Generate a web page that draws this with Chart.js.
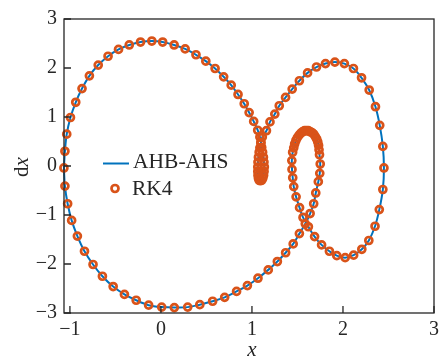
<!DOCTYPE html>
<html>
<head>
<meta charset="utf-8">
<script src="https://cdn.jsdelivr.net/npm/chart.js@4.4.1/dist/chart.umd.min.js"></script>
<style>
  html, body { margin: 0; padding: 0; background: #fff; }
  canvas { display: block; }
</style>
</head>
<body>
<canvas id="phase" width="444" height="358"></canvas>
<script>
// Tick values of the two axes
const xTicks = [-1, 0, 1, 2, 3];
const yTicks = [-3, -2, -1, 0, 1, 2, 3];
const seriesNames = ['AHB-AHS', 'RK4'];

// Periodic orbit in the (x, dx) plane, one period, clockwise from the left turning point
// upper-left arc
const arcX  = [-1.066,-1.055,-1.035,-0.994,-0.936,-0.867,-0.786,-0.689,-0.581,-0.466,-0.348,-0.224,-0.100,0.019,0.145,0.266,0.385,0.493,0.595,0.689,0.772,0.847,0.915,0.969,1.019,1.063];
const arcDx = [-0.04,0.30,0.65,0.99,1.30,1.58,1.84,2.06,2.24,2.38,2.47,2.53,2.55,2.53,2.47,2.39,2.27,2.14,1.99,1.82,1.65,1.46,1.27,1.09,0.91,0.73];
// slow narrow lobe near x = 1.1
const lobeX  = [1.087,1.098,1.107,1.117,1.126,1.132,1.136,1.133,1.128,1.119,1.107,1.092,1.079,1.071,1.066,1.064,1.064,1.066,1.071,1.079,1.087,1.098,1.114];
const lobeDx = [0.59,0.48,0.38,0.28,0.18,0.08,-0.02,-0.11,-0.19,-0.25,-0.29,-0.30,-0.29,-0.25,-0.19,-0.11,-0.02,0.08,0.18,0.28,0.37,0.47,0.59];
// right loop, down to the inner oval
const loopX  = [1.159,1.198,1.251,1.300,1.369,1.442,1.521,1.611,1.709,1.808,1.911,2.015,2.115,2.204,2.288,2.357,2.404,2.438,2.450,2.438,2.399,2.352,2.284,2.207,2.117,2.024,1.932,1.851,1.765,1.688,1.620,1.561,1.523,1.485,1.459,1.448,1.440,1.438,1.447];
const loopDx = [0.72,0.90,1.06,1.23,1.40,1.57,1.74,1.90,2.02,2.09,2.12,2.09,1.99,1.80,1.55,1.21,0.83,0.40,-0.04,-0.48,-0.89,-1.23,-1.52,-1.70,-1.82,-1.87,-1.83,-1.74,-1.61,-1.44,-1.24,-1.05,-0.85,-0.63,-0.42,-0.24,-0.07,0.11,0.28];
// top of the inner oval (slow)
const ovalX  = [1.459,1.469,1.483,1.499,1.518,1.537,1.558,1.578,1.598,1.619,1.639,1.660,1.679,1.696,1.711,1.723,1.732,1.737];
const ovalDx = [0.37,0.45,0.52,0.58,0.63,0.67,0.70,0.72,0.72,0.72,0.70,0.68,0.65,0.60,0.55,0.49,0.42,0.33];
// oval right side and the long lower arc back to the start
const lowX  = [1.742,1.750,1.745,1.729,1.701,1.678,1.639,1.586,1.521,1.453,1.370,1.279,1.179,1.066,0.950,0.831,0.700,0.568,0.427,0.294,0.147,0.008,-0.135,-0.272,-0.401,-0.525,-0.643,-0.746,-0.840,-0.918,-0.981,-1.025,-1.055];
const lowDx = [0.23,0.04,-0.15,-0.32,-0.55,-0.77,-0.97,-1.18,-1.38,-1.59,-1.77,-1.95,-2.12,-2.29,-2.44,-2.56,-2.68,-2.76,-2.83,-2.88,-2.89,-2.88,-2.84,-2.74,-2.62,-2.46,-2.25,-2.01,-1.74,-1.43,-1.11,-0.77,-0.41];

const orbitX  = [...arcX, ...lobeX, ...loopX, ...ovalX, ...lowX];
const orbitDx = [...arcDx, ...lobeDx, ...loopDx, ...ovalDx, ...lowDx];

const points = orbitX.map((v, i) => ({ x: v, y: orbitDx[i] }));
const closedPath = points.concat([points[0]]);

const BLUE = '#0072BD';
const ORANGE = '#D95319';
const INK = '#262626';
const FONT = "'Liberation Serif', 'Times New Roman', serif";

const fmt = v => (v < 0 ? '\u2212' + Math.abs(v) : String(v));

// Box, inward ticks, axis titles and legend
const decorations = {
  id: 'decorations',
  afterDraw(chart) {
    const { ctx, chartArea: a, scales: { x, y } } = chart;
    ctx.save();
    ctx.strokeStyle = INK;
    ctx.lineWidth = 1.3;
    ctx.strokeRect(a.left, a.top, a.right - a.left, a.bottom - a.top);
    ctx.beginPath();
    xTicks.forEach(v => {
      const px = x.getPixelForValue(v);
      ctx.moveTo(px, a.bottom); ctx.lineTo(px, a.bottom - 7);
    });
    yTicks.forEach(v => {
      const py = y.getPixelForValue(v);
      ctx.moveTo(a.left, py); ctx.lineTo(a.left + 7, py);
    });
    ctx.stroke();

    ctx.fillStyle = INK;
    ctx.textBaseline = 'middle';
    // x-axis title
    ctx.font = 'italic 21px ' + FONT;
    ctx.textAlign = 'center';
    ctx.fillText('x', (a.left + a.right) / 2 + 3, 350);
    // y-axis title "dx" (upright d, italic x), rotated
    ctx.save();
    ctx.translate(22, (a.top + a.bottom) / 2 + 1);
    ctx.rotate(-Math.PI / 2);
    ctx.textAlign = 'left';
    ctx.font = '21px ' + FONT;
    const wd = ctx.measureText('d').width;
    ctx.font = 'italic 21px ' + FONT;
    const wx = ctx.measureText('x').width;
    const start = -(wd + wx) / 2;
    ctx.font = '21px ' + FONT;
    ctx.fillText('d', start, 0);
    ctx.font = 'italic 21px ' + FONT;
    ctx.fillText('x', start + wd, 0);
    ctx.restore();

    // legend
    ctx.strokeStyle = BLUE;
    ctx.lineWidth = 2;
    ctx.beginPath();
    ctx.moveTo(103, 163.5); ctx.lineTo(129, 163.5);
    ctx.stroke();
    ctx.strokeStyle = ORANGE;
    ctx.lineWidth = 2.7;
    ctx.beginPath();
    ctx.arc(115, 188.5, 3.5, 0, Math.PI * 2);
    ctx.stroke();
    ctx.fillStyle = INK;
    ctx.textAlign = 'left';
    ctx.font = '21.5px ' + FONT;
    ctx.fillText(seriesNames[0], 133, 162.5);
    ctx.fillText(seriesNames[1], 132, 189);
    ctx.restore();
  }
};

new Chart(document.getElementById('phase'), {
  type: 'scatter',
  data: {
    datasets: [
      {
        label: seriesNames[0],
        data: closedPath,
        showLine: true,
        borderColor: BLUE,
        borderWidth: 2,
        tension: 0.35,
        pointRadius: 0,
        fill: false,
        clip: false,
        order: 2
      },
      {
        label: seriesNames[1],
        data: points,
        showLine: false,
        pointStyle: 'circle',
        pointRadius: 3.5,
        pointBorderWidth: 2.7,
        pointBorderColor: ORANGE,
        pointBackgroundColor: 'rgba(0,0,0,0)',
        clip: false,
        order: 1
      }
    ]
  },
  options: {
    responsive: false,
    animation: false,
    devicePixelRatio: 1,
    layout: { padding: { top: 17, right: 4, left: 0, bottom: 0 } },
    plugins: { legend: { display: false }, tooltip: { enabled: false } },
    scales: {
      x: {
        type: 'linear',
        min: -1.065,
        max: 3,
        afterBuildTicks: s => { s.ticks = xTicks.map(v => ({ value: v })); },
        afterFit: s => { s.height = 45; },
        grid: { display: false, drawTicks: false },
        border: { display: false },
        ticks: {
          padding: 5,
          color: INK,
          font: { family: FONT, size: 20 },
          callback: v => fmt(v)
        }
      },
      y: {
        type: 'linear',
        min: -3,
        max: 3,
        afterBuildTicks: s => { s.ticks = yTicks.map(v => ({ value: v })); },
        afterFit: s => { s.width = 64; },
        grid: { display: false, drawTicks: false },
        border: { display: false },
        ticks: {
          padding: 7,
          color: INK,
          font: { family: FONT, size: 20 },
          callback: v => fmt(v)
        }
      }
    }
  },
  plugins: [decorations]
});
</script>
</body>
</html>
